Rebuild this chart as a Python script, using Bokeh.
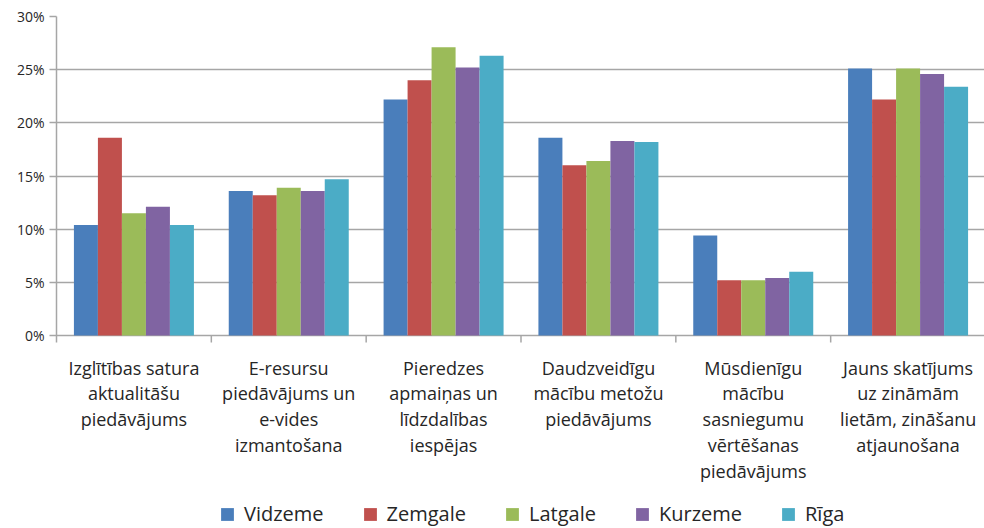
from bokeh.plotting import figure
from bokeh.models import (FixedTicker, PrintfTickFormatter, Legend, LegendItem, Range1d)
from bokeh.core.properties import value
from bokeh.embed import file_html
from bokeh.resources import INLINE

categories = [
    "Izglītības satura\naktualitāšu\npiedāvājums",
    "E-resursu\npiedāvājums un\ne-vides\nizmantošana",
    "Pieredzes\napmaiņas un\nlīdzdalības\niespējas",
    "Daudzveidīgu\nmācību metožu\npiedāvājums",
    "Mūsdienīgu\nmācību\nsasniegumu\nvērtēšanas\npiedāvājums",
    "Jauns skatījums\nuz zināmām\nlietām, zināšanu\natjaunošana",
]
regions = ["Vidzeme", "Zemgale", "Latgale", "Kurzeme", "Rīga"]
vidzeme = [10.4, 13.6, 22.2, 18.6, 9.4, 25.1]
zemgale = [18.6, 13.2, 24.0, 16.0, 5.2, 22.2]
latgale = [11.5, 13.9, 27.1, 16.4, 5.2, 25.1]
kurzeme = [12.1, 13.6, 25.2, 18.3, 5.4, 24.6]
riga = [10.4, 14.7, 26.3, 18.2, 6.0, 23.4]
series = [vidzeme, zemgale, latgale, kurzeme, riga]
colors = ["#4a7ebb", "#c0504d", "#9bbb59", "#8064a2", "#4bacc6"]
y_ticks = [0, 5, 10, 15, 20, 25, 30]

FONT = "Open Sans"
TXT = "#262626"
GRID = "#a6a6a6"

# layout constants (pixels)
FRAME_H = 512          # frame spans the full height below the top border
PLOT_H = 319           # pixels from 0% to 30%
YMAX = 30
px = YMAX / PLOT_H     # data units per pixel
ymin = -(FRAME_H - PLOT_H) * px

p = figure(output_backend="svg", toolbar_location=None, x_axis_location=None,
           x_range=Range1d(0, len(categories)), y_range=Range1d(ymin, YMAX))
p.frame_width = 929
p.frame_height = FRAME_H
p.min_border_left = 56
p.min_border_right = 0
p.min_border_top = 16
p.min_border_bottom = 0
p.outline_line_color = None
p.background_fill_color = "white"
p.border_fill_color = "white"

n = len(series)
w = 0.155
items = []
for k, (name, vals, col) in enumerate(zip(regions, series, colors)):
    xs = [i + 0.5 + (k - (n - 1) / 2) * w for i in range(len(categories))]
    r = p.vbar(x=xs, top=vals, width=w, bottom=0, fill_color=col, line_color=None)
    items.append(LegendItem(label=name, renderers=[r]))

# y axis
p.yaxis.ticker = FixedTicker(ticks=y_ticks)
p.yaxis.bounds = (-7 * px, YMAX)
p.yaxis.formatter = PrintfTickFormatter(format="%d%%")
p.yaxis.axis_line_color = GRID
p.yaxis.axis_line_width = 1.5
p.yaxis.major_tick_line_color = GRID
p.yaxis.major_tick_line_width = 1.5
p.yaxis.major_tick_out = 7
p.yaxis.major_tick_in = 0
p.yaxis.minor_tick_line_color = None
p.yaxis.major_label_text_font = FONT
p.yaxis.major_label_text_font_size = "14px"
p.yaxis.major_label_text_color = TXT
p.yaxis.major_label_standoff = 5

p.xgrid.grid_line_color = None
p.ygrid.ticker = FixedTicker(ticks=y_ticks)
p.ygrid.grid_line_color = GRID
p.ygrid.grid_line_width = 1.5

# category separators (x-axis ticks) and labels
bounds_x = list(range(1, len(categories) + 1))
p.segment(x0=bounds_x, y0=[0] * len(bounds_x), x1=bounds_x, y1=[-7 * px] * len(bounds_x),
          line_color=GRID, line_width=1.5)
centers = [i + 0.5 for i in range(len(categories))]
p.text(x=centers, y=[-20 * px] * len(centers), text=categories,
       text_font=value(FONT), text_font_size="18px", text_color=TXT,
       text_align="center", text_baseline="top", text_line_height=1.08)

legend = Legend(items=items, orientation="horizontal", location=(163, 1),
                glyph_width=16, glyph_height=16, label_standoff=9, spacing=38,
                label_text_font=FONT, label_text_font_size="20px", label_text_color=TXT,
                border_line_color=None, background_fill_alpha=0, padding=0, margin=0)
p.add_layout(legend)

open("out.html", "w").write(file_html(p, INLINE))
